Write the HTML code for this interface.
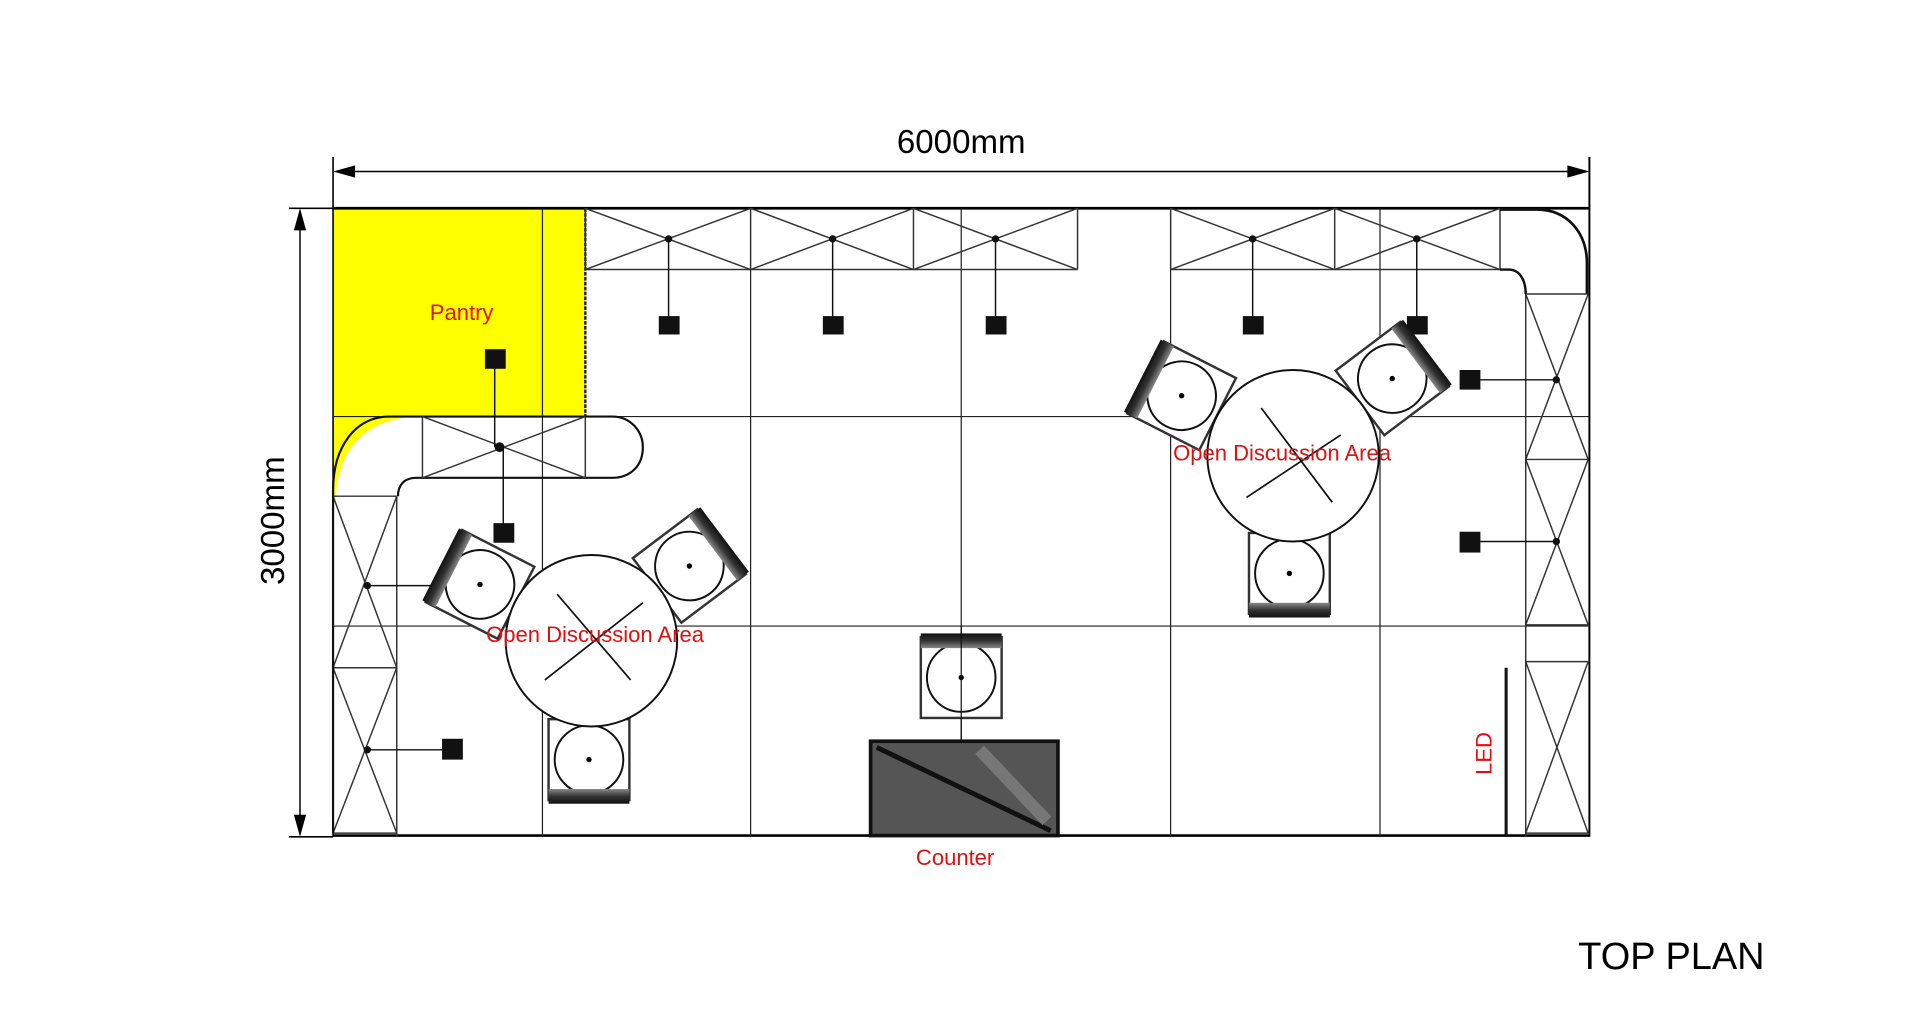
<!DOCTYPE html>
<html><head><meta charset="utf-8"><style>
html,body{margin:0;padding:0;background:#fff;}
svg{display:block;}
text{font-family:"Liberation Sans",sans-serif;}
</style></head><body>
<svg width="1920" height="1012" viewBox="0 0 1568 826" preserveAspectRatio="none" xmlns="http://www.w3.org/2000/svg">
<defs>
<linearGradient id="band" x1="0" y1="0" x2="0" y2="1">
<stop offset="0" stop-color="#888"/><stop offset="0.5" stop-color="#333"/><stop offset="1" stop-color="#111"/>
</linearGradient>
<g id="chair">
<rect x="-33" y="-33" width="66" height="66" fill="#fff" stroke="#333" stroke-width="2"/>
<circle cx="0" cy="0" r="28" fill="#fff" stroke="#111" stroke-width="1.6"/>
<rect x="-33" y="24" width="66" height="12" fill="url(#band)"/>
<circle cx="0" cy="0" r="2.2" fill="#000"/>
</g>
</defs>
<!-- pantry -->
<path d="M272,170 H478 V340 H345 C300,340 275,365 274,410 L272,410 Z" fill="#ffff00"/>
<!-- dimension top -->
<line x1="272" y1="128" x2="272" y2="683" stroke="#000" stroke-width="1.3"/>
<line x1="1298" y1="128" x2="1298" y2="683" stroke="#000" stroke-width="1.6"/>
<line x1="280" y1="140" x2="1290" y2="140" stroke="#000" stroke-width="1.2"/>
<polygon points="272,140 290,135 290,145" fill="#000"/>
<polygon points="1298,140 1280,135 1280,145" fill="#000"/>
<text x="785" y="125" font-size="27" text-anchor="middle" fill="#000">6000mm</text>
<!-- dimension left -->
<line x1="236" y1="170" x2="272" y2="170" stroke="#000" stroke-width="1.3"/>
<line x1="236" y1="683" x2="272" y2="683" stroke="#000" stroke-width="1.3"/>
<line x1="245" y1="178" x2="245" y2="676" stroke="#000" stroke-width="1.2"/>
<polygon points="245,170 240,188 250,188" fill="#000"/>
<polygon points="245,683 240,665 250,665" fill="#000"/>
<text transform="translate(232,425) rotate(-90)" font-size="27" text-anchor="middle" fill="#000">3000mm</text>
<!-- outer -->
<line x1="272" y1="170" x2="1298" y2="170" stroke="#000" stroke-width="2.2"/>
<line x1="272" y1="682" x2="1298" y2="682" stroke="#000" stroke-width="2.2"/>
<!-- grid -->
<g stroke="#222" stroke-width="1">
<line x1="443" y1="170" x2="443" y2="683"/>
<line x1="613" y1="220" x2="613" y2="683"/>
<line x1="785" y1="170" x2="785" y2="605"/>
<line x1="956" y1="170" x2="956" y2="683"/>
<line x1="1127" y1="170" x2="1127" y2="683"/>
<line x1="272" y1="340" x2="1298" y2="340"/>
<line x1="272" y1="511" x2="1298" y2="511"/>
</g>
<!-- pantry side wall -->
<line x1="478" y1="170" x2="478" y2="340" stroke="#222" stroke-width="2" stroke-dasharray="3,1"/>
<!-- top truss -->
<g stroke="#333" stroke-width="1.2" fill="none">
<line x1="478" y1="220" x2="880" y2="220"/>
<line x1="956" y1="220" x2="1225" y2="220"/>
<path d="M478,170 V220 M613,170 V220 M746,170 V220 M880,170 V220 M956,170 V220 M1090,170 V220 M1225,170 V220"/>
<path d="M478,220 L613,170 M478,170 L613,220 M613,220 L746,170 M613,170 L746,220 M746,220 L880,170 M746,170 L880,220"/>
<path d="M956,220 L1090,170 M956,170 L1090,220 M1090,220 L1225,170 M1090,170 L1225,220"/>
</g>
<!-- top-right corner curve -->
<path d="M1225,171 H1255 C1280,171 1296,190 1296,215 V240" fill="none" stroke="#111" stroke-width="2.2"/>
<path d="M1225,220 H1232 C1242,220 1246,230 1246,240" fill="none" stroke="#111" stroke-width="2"/>
<!-- right truss -->
<g stroke="#333" stroke-width="1.2" fill="none">
<line x1="1246" y1="240" x2="1246" y2="683"/>
<path d="M1246,240 H1297 M1246,375 H1297 M1246,510 H1297 M1246,540 H1297 M1246,680 H1297"/>
<path d="M1246,240 L1297,375 M1297,240 L1246,375 M1246,375 L1297,510 M1297,375 L1246,510 M1246,540 L1297,680 M1297,540 L1246,680"/>
</g>
<!-- left truss -->
<g stroke="#333" stroke-width="1.2" fill="none">
<line x1="324" y1="405" x2="324" y2="683"/>
<path d="M272,405 H324 M272,545 H324 M272,680 H324"/>
<path d="M272,405 L324,545 M324,405 L272,545 M272,545 L324,680 M324,545 L272,680"/>
</g>
<!-- horizontal truss with curves -->
<path d="M272,680 V400 C272,365 290,340 318,340 H500 C515,340 525,352 525,365 C525,380 515,390 500,390 H340 C330,390 325,396 325,405" fill="none" stroke="#111" stroke-width="1.8"/>
<g stroke="#333" stroke-width="1.2" fill="none">
<path d="M345,340 V390 M478,340 V390"/>
<path d="M345,340 L478,390 M478,340 L345,390"/>
</g>
<!-- lights -->
<g stroke="#111" stroke-width="1.2">
<line x1="546" y1="195" x2="546" y2="260"/>
<line x1="680" y1="195" x2="680" y2="260"/>
<line x1="813" y1="195" x2="813" y2="260"/>
<line x1="1023" y1="195" x2="1023" y2="260"/>
<line x1="1157" y1="195" x2="1157" y2="260"/>
<line x1="404" y1="300" x2="404" y2="365"/>
<line x1="411" y1="365" x2="411" y2="430"/>
<line x1="300" y1="478" x2="368" y2="478"/>
<line x1="300" y1="612" x2="368" y2="612"/>
<line x1="1200" y1="310" x2="1271" y2="310"/>
<line x1="1200" y1="442" x2="1271" y2="442"/>
</g>
<g fill="#111">
<rect x="538" y="258" width="17" height="15"/><rect x="672" y="258" width="17" height="15"/>
<rect x="805" y="258" width="17" height="15"/><rect x="1015" y="258" width="17" height="15"/>
<rect x="1149" y="258" width="17" height="15"/>
<rect x="396" y="285" width="17" height="16"/><rect x="403" y="427" width="17" height="16"/>
<rect x="361" y="470" width="17" height="17"/><rect x="361" y="603" width="17" height="17"/>
<rect x="1192" y="302" width="17" height="16"/><rect x="1192" y="434" width="17" height="17"/>
<circle cx="546" cy="195" r="3"/><circle cx="680" cy="195" r="3"/><circle cx="813" cy="195" r="3"/>
<circle cx="1023" cy="195" r="3"/><circle cx="1157" cy="195" r="3"/><circle cx="408" cy="365" r="4"/>
<circle cx="300" cy="478" r="3"/><circle cx="300" cy="612" r="3"/><circle cx="1271" cy="310" r="3"/><circle cx="1271" cy="442" r="3"/>
</g>
<!-- left table group -->
<use href="#chair" transform="translate(392,477) rotate(117)"/>
<use href="#chair" transform="translate(563,462) rotate(-127)"/>
<use href="#chair" transform="translate(481,620)"/>
<circle cx="483" cy="523" r="70" fill="#fff" stroke="#111" stroke-width="1.6"/>
<line x1="455" y1="485" x2="515" y2="555" stroke="#111" stroke-width="1.4"/>
<line x1="445" y1="555" x2="525" y2="492" stroke="#111" stroke-width="1.4"/>
<!-- right table group -->
<use href="#chair" transform="translate(965,323) rotate(117)"/>
<use href="#chair" transform="translate(1137,309) rotate(-127)"/>
<use href="#chair" transform="translate(1053,468)"/>
<circle cx="1056" cy="372" r="70" fill="#fff" stroke="#111" stroke-width="1.6"/>
<line x1="1030" y1="333" x2="1088" y2="410" stroke="#111" stroke-width="1.4"/>
<line x1="1018" y1="406" x2="1095" y2="355" stroke="#111" stroke-width="1.4"/>
<!-- counter chair -->
<use href="#chair" transform="translate(785,553) rotate(180)"/>
<line x1="785" y1="511" x2="785" y2="605" stroke="#111" stroke-width="1"/>
<!-- counter -->
<rect x="711" y="605" width="153" height="77" fill="#555" stroke="#111" stroke-width="3"/>
<line x1="716" y1="610" x2="858" y2="678" stroke="#111" stroke-width="4"/>
<line x1="800" y1="612" x2="855" y2="670" stroke="#777" stroke-width="10"/>
<!-- LED -->
<line x1="1230" y1="545" x2="1230" y2="683" stroke="#111" stroke-width="2.5"/>
<!-- labels -->
<g fill="#e01010" font-size="18">
<text x="377" y="261" text-anchor="middle">Pantry</text>
<text x="486" y="524" text-anchor="middle">Open Discussion Area</text>
<text x="1047" y="376" text-anchor="middle">Open Discussion Area</text>
<text x="780" y="706" text-anchor="middle">Counter</text>
<text transform="translate(1218,615) rotate(-90)" text-anchor="middle">LED</text>
</g>
<text x="1365" y="791" font-size="31" text-anchor="middle" fill="#000">TOP PLAN</text>
</svg>
</body></html>
